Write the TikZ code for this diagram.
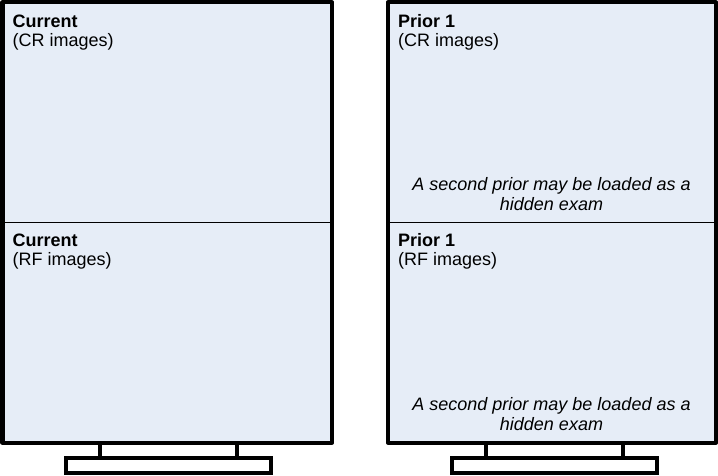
\documentclass[tikz,border=0pt]{standalone}
\usepackage{fontspec}
\setmainfont{Liberation Sans}
\definecolor{ScreenBlue}{RGB}{230, 237, 247}
\usetikzlibrary{positioning}

\begin{document}
\begin{tikzpicture}[x=1bp, y=-1bp,
    every node/.style={inner sep=0pt, font=\fontsize{18bp}{20bp}\selectfont},
    panel/.style={draw, line width=1bp, fill=ScreenBlue, minimum height=219.5bp, anchor=north west},
    title/.style={anchor=base west, font=\fontsize{18bp}{20bp}\selectfont\bfseries},
    sub/.style={anchor=base west},
    note/.style={anchor=south, align=center, font=\fontsize{18bp}{20bp}\selectfont\itshape},
    frame/.style={line width=4bp, line join=round},
    stand/.style={line width=3.5bp, fill=white}
]
\useasboundingbox (0,0) rectangle (718,476);
% Monitors
\foreach \mon/\x/\w/\neckL/\neckR/\baseL/\baseR/\who in
    {cur/2.5/328.5/100/237/66/271/Current, pri/388/327/486/623/452/657/Prior 1} {
    % stand
    \draw[stand] (\neckL,441) rectangle (\neckR,458);
    \draw[stand] (\baseL,458) rectangle (\baseR,473);
    % screen halves
    \node[panel, minimum width=\w bp] (\mon Top) at (\x,2.5) {};
    \node[panel, minimum width=\w bp] (\mon Bot) at (\x,222) {};
    \draw[frame] (\mon Top.north west) rectangle (\mon Bot.south east);
    % labels
    \node[title] (\mon TopT) at (\x+10,27.5) {\who};
    \node[sub] (\mon TopS) at (\x+10,46.5) {(CR images)};
    \node[title] (\mon BotT) at (\x+10,246.5) {\who};
    \node[sub] (\mon BotS) at (\x+10,265.5) {(RF images)};
}
% Hidden exam notes
\node[note] (priTopN) at (551.5,211) {A second prior may be loaded as a\\hidden exam};
\node[note] (priBotN) at (551.5,431) {A second prior may be loaded as a\\hidden exam};
\end{tikzpicture}
\end{document}
